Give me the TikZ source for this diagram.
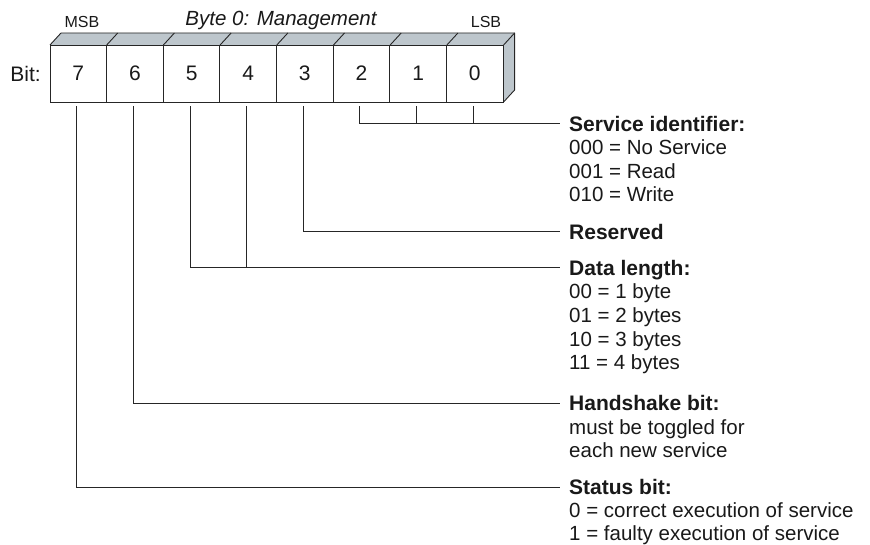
\documentclass[tikz,border=0pt]{standalone}
\usepackage{fontspec}
\setmainfont{Liberation Sans}
\begin{document}
\begin{tikzpicture}[x=1pt,y=-1pt,
  every node/.style={inner sep=0pt,text=black!90},
  bitbox/.style={draw=black!85,line width=0.9pt,minimum width=56.625pt,minimum height=57pt,font=\fontsize{21}{24}\selectfont},
  conn/.style={draw=black!85,line width=1pt},
  head/.style={anchor=base west,font=\fontsize{21}{24}\selectfont\bfseries},
  desc/.style={anchor=base west,font=\fontsize{20.5}{24}\selectfont},
  small/.style={font=\fontsize{16}{18}\selectfont}]
\definecolor{facegray}{RGB}{189,198,204}
\useasboundingbox (0,0) rectangle (870,545);
% top and side faces
\fill[facegray] (50,45) -- (61,33) -- (514.6,33) -- (514.6,90) -- (503.6,102) -- (503.6,45) -- cycle;
\foreach \i in {0,...,8} {
  \draw[black!85,line width=0.9pt] (50+\i*56.7,45) -- (61+\i*56.7,33);
}
\draw[black!85,line width=0.9pt,line join=round] (61,33) -- (514.6,33) -- (514.6,90) -- (503.6,102);
% bit boxes
\node[bitbox] (b7) at (78.3,73.5) {7};
\node[bitbox] (b6) at (134.95,73.5) {6};
\node[bitbox] (b5) at (191.6,73.5) {5};
\node[bitbox] (b4) at (248.2,73.5) {4};
\node[bitbox] (b3) at (304.8,73.5) {3};
\node[bitbox] (b2) at (361.45,73.5) {2};
\node[bitbox] (b1) at (418.1,73.5) {1};
\node[bitbox] (b0) at (474.7,73.5) {0};
% labels above
\node[font=\fontsize{21}{24}\selectfont,anchor=east] (bit) at (41,73.5) {Bit:};
\node[small] (msb) at (82,22) {MSB};
\node[small] (lsb) at (486,22) {LSB};
\node[font=\fontsize{20.5}{24}\selectfont\itshape] (title) at (281,20) {Byte 0: Management};
% end coordinates
\coordinate (e1) at (560,124);
\coordinate (e2) at (560,232);
\coordinate (e3) at (560,268);
\coordinate (e4) at (560,403);
\coordinate (e5) at (560,487);
% connectors
\draw[conn] ([xshift=-1.5pt,yshift=-4pt]b2.south) |- (e1);
\draw[conn] ([xshift=-1.5pt,yshift=-4pt]b1.south) -- ([xshift=-1.5pt]b1.south |- e1);
\draw[conn] ([xshift=-1.5pt,yshift=-4pt]b0.south) -- ([xshift=-1.5pt]b0.south |- e1);
\draw[conn] ([xshift=-1.5pt,yshift=-4pt]b3.south) |- (e2);
\draw[conn] ([xshift=-1.5pt,yshift=-4pt]b5.south) |- (e3);
\draw[conn] ([xshift=-1.5pt,yshift=-4pt]b4.south) -- ([xshift=-1.5pt]b4.south |- e3);
\draw[conn] ([xshift=-1.5pt,yshift=-4pt]b6.south) |- (e4);
\draw[conn] ([xshift=-1.5pt,yshift=-4pt]b7.south) |- (e5);
% texts
\node[head] (h1) at (569,131.5) {Service identifier:};
\node[desc] (d11) at (569,155) {000 = No Service};
\node[desc] (d12) at (569,178.5) {001 = Read};
\node[desc] (d13) at (569,202) {010 = Write};
\node[head] (h2) at (569,239.5) {Reserved};
\node[head] (h3) at (569,275.5) {Data length:};
\node[desc] (d31) at (569,299) {00 = 1 byte};
\node[desc] (d32) at (569,322.5) {01 = 2 bytes};
\node[desc] (d33) at (569,346) {10 = 3 bytes};
\node[desc] (d34) at (569,369.5) {11 = 4 bytes};
\node[head] (h4) at (569,410.5) {Handshake bit:};
\node[desc] (d41) at (569,434) {must be toggled for};
\node[desc] (d42) at (569,457.5) {each new service};
\node[head] (h5) at (569,494) {Status bit:};
\node[desc] (d51) at (569,517) {0 = correct execution of service};
\node[desc] (d52) at (569,540) {1 = faulty execution of service};
\end{tikzpicture}
\end{document}
